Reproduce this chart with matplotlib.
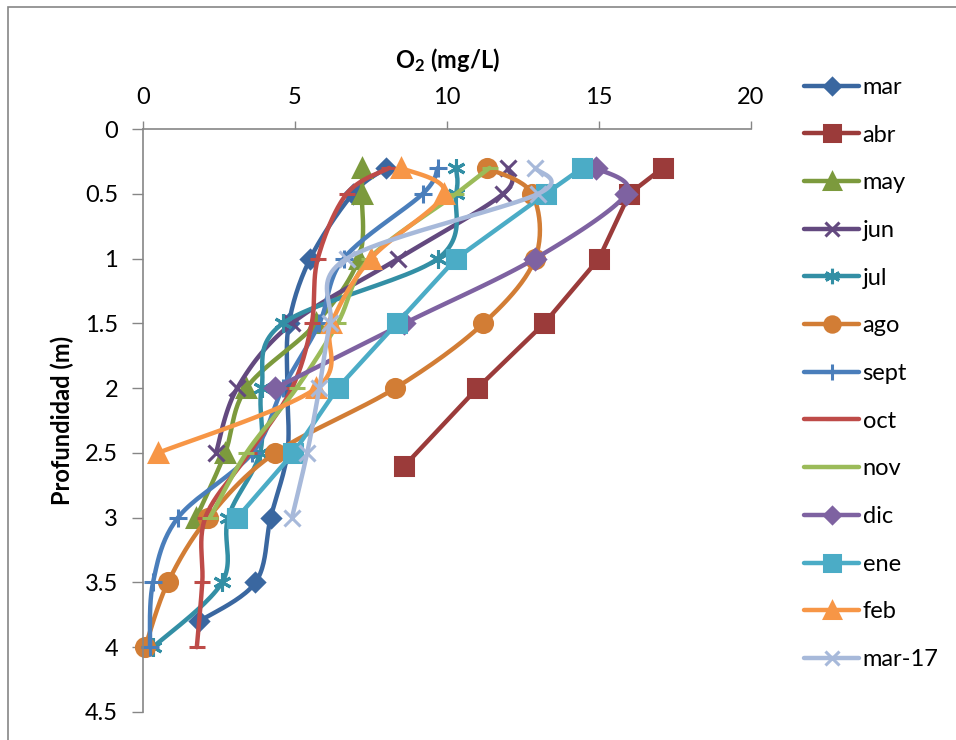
import numpy as np
import matplotlib
matplotlib.use("Agg")
import matplotlib.pyplot as plt
from matplotlib.patches import Rectangle

plt.rcParams['font.family'] = ['Lato', 'DejaVu Sans']
plt.rcParams['mathtext.fontset'] = 'custom'
plt.rcParams['mathtext.rm'] = 'Lato:bold'
plt.rcParams['mathtext.default'] = 'rm'

# Dissolved oxygen profiles (mg/L) by month
depth = [0.3, 0.5, 1.0, 1.5, 2.0, 2.5, 3.0, 3.5, 4.0]

mar = [8.0, 6.9, 5.5, 4.8, 4.75, 4.75, 4.2, 3.7, 1.85]
mar_depth = [0.3, 0.5, 1.0, 1.5, 2.0, 2.5, 3.0, 3.5, 3.8]
abr = [17.1, 16.0, 15.0, 13.2, 11.0, 8.6]
abr_depth = [0.3, 0.5, 1.0, 1.5, 2.0, 2.6]
may = [7.2, 7.2, 7.1, 5.7, 3.4, 2.7, 1.75]
jun = [12.0, 11.85, 8.4, 4.9, 3.1, 2.4]
jul = [10.3, 10.3, 9.7, 4.6, 3.9, 3.85, 2.8, 2.6, 0.33]
ago = [11.3, 12.8, 12.9, 11.2, 8.3, 4.35, 2.15, 0.82, 0.07]
sept = [9.7, 9.2, 6.6, 5.8, 4.6, 3.6, 1.15, 0.33, 0.23]
oct_ = [8.1, 6.7, 5.75, 5.55, 4.9, 3.5, 2.05, 1.95, 1.77]
nov = [11.4, 10.3, 7.45, 6.4, 5.05, 3.4, 2.2]
dic = [14.9, 15.9, 12.9, 8.6, 4.35]
ene = [14.45, 13.25, 10.3, 8.35, 6.4, 4.95, 3.1]
feb = [8.5, 9.9, 7.5, 6.2, 5.7, 0.5]
mar17 = [12.9, 13.0, 6.7, 6.15, 5.8, 5.4, 4.9]

x_ticks = [0, 5, 10, 15, 20]
y_ticks = [0, 0.5, 1, 1.5, 2, 2.5, 3, 3.5, 4, 4.5]

# px per unit on each axis, used so the smoothing works in screen space
SX, SY = 30.4, 129.5
NSEG = 24


def smooth(xs, ys):
    pts = np.column_stack([np.array(xs) * SX, np.array(ys) * SY])
    n = len(pts)
    out = [pts[0]]
    t = np.linspace(0, 1, NSEG + 1)[1:, None]
    for i in range(n - 1):
        p0 = pts[i - 1] if i > 0 else pts[i]
        p1, p2 = pts[i], pts[i + 1]
        p3 = pts[i + 2] if i + 2 < n else pts[i + 1]
        c1 = p1 + (p2 - p0) / 6
        c2 = p2 - (p3 - p1) / 6
        seg = ((1 - t) ** 3) * p1 + 3 * ((1 - t) ** 2) * t * c1 + 3 * (1 - t) * t ** 2 * c2 + t ** 3 * p2
        out.extend(seg)
    out = np.array(out)
    return out[:, 0] / SX, out[:, 1] / SY


series = [
    ("mar", mar, mar_depth, "#3A67A0", "D", 9, True),
    ("abr", abr, abr_depth, "#9B3B3A", "s", 13, False),
    ("may", may, depth, "#7C9A3D", "^", 13, True),
    ("jun", jun, depth, "#63497F", "x", 12, True),
    ("jul", jul, depth, "#338FA5", (6, 2, 0), 13, True),
    ("ago", ago, depth, "#D27D35", "o", 13, True),
    ("sept", sept, depth, "#4A7EBB", "+", 13, True),
    ("oct", oct_, depth, "#BE4B48", "_", 11, True),
    ("nov", nov, depth, "#9BBB59", "_", 11, True),
    ("dic", dic, depth, "#7E62A1", "D", 10, True),
    ("ene", ene, depth, "#4BACC6", "s", 13, False),
    ("feb", feb, depth, "#F79646", "^", 13, True),
    ("mar-17", mar17, depth, "#A7B9DA", "x", 12, True),
]

fig = plt.figure(figsize=(9.56, 7.4), dpi=100)
ax = fig.add_axes([143 / 956, 1 - 712 / 740, (751 - 143) / 956, (712 - 129) / 740])

for name, vals, dep, color, marker, ms, smoothed in series:
    dep = dep[:len(vals)]
    if smoothed:
        sx, sy = smooth(vals, dep)
        marks = list(range(0, len(sx), NSEG))
    else:
        sx, sy = np.array(vals), np.array(dep)
        marks = list(range(len(sx)))
    ax.plot(sx, sy, color=color, lw=3.2, marker=marker, markersize=ms,
            markevery=marks, markeredgewidth=2.2, markeredgecolor=color,
            markerfacecolor=color, label=name, solid_capstyle='round',
            solid_joinstyle='round', clip_on=False)

ax.set_xlim(0, 20)
ax.set_ylim(4.5, 0)
ax.xaxis.tick_top()
ax.set_xticks(x_ticks)
ax.set_yticks(y_ticks)
ax.set_xticklabels([str(v) for v in x_ticks])
ax.set_yticklabels([f"{v:g}" for v in y_ticks])
ax.tick_params(axis='x', direction='out', length=6, width=1, color='#868686',
               pad=9, labelsize=17)
ax.tick_params(axis='y', direction='out', length=8, width=1, color='#868686',
               pad=10, labelsize=17)
for side in ['right', 'bottom']:
    ax.spines[side].set_visible(False)
for side in ['top', 'left']:
    ax.spines[side].set_color('#868686')
    ax.spines[side].set_linewidth(1.2)

fig.text(447 / 956, 1 - 60 / 740, r'O$_2$ (mg/L)', fontsize=17, fontweight='bold',
         ha='center', va='center')
fig.text(62 / 956, 1 - 420 / 740, 'Profundidad (m)', fontsize=17, fontweight='bold',
         ha='center', va='center', rotation=90)

fig.legend(loc='upper left', bbox_to_anchor=(804 / 956, 1 - 77 / 740),
           frameon=False, fontsize=17, handlelength=2.33, handletextpad=0.15,
           labelspacing=1.13, borderpad=0, borderaxespad=0, markerscale=0.85)

# outer chart border
fig.patches.append(Rectangle((8 / 956, -0.05), 1.2, 1 - 7 / 740 + 0.05,
                             transform=fig.transFigure, fill=False,
                             edgecolor='#868686', linewidth=1.2))

fig.savefig("out.png", dpi=100)
